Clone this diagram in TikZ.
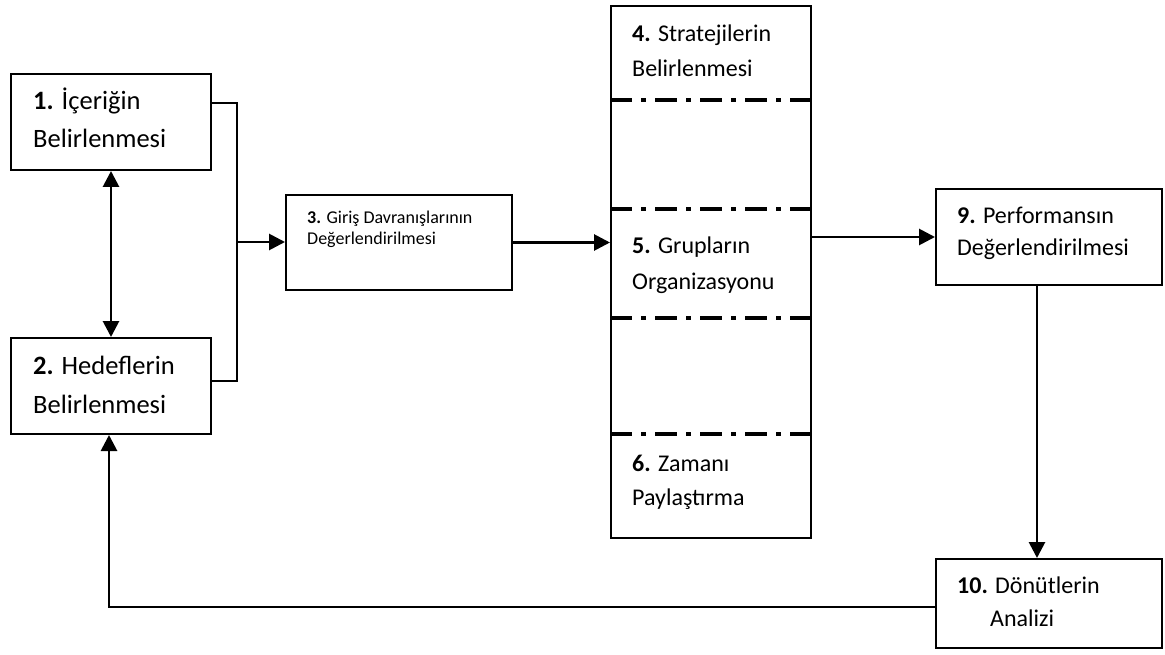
\documentclass[tikz,border=0pt]{standalone}
\usepackage{fontspec}
\setmainfont{Carlito}
\usetikzlibrary{arrows.meta}
\begin{document}
\begin{tikzpicture}[x=1pt,y=-1pt,
  box/.style={draw, line width=2pt, inner sep=0pt},
  bigtext/.style={anchor=base west, align=left, inner sep=0pt, font=\fontsize{24}{38}\selectfont},
  smalltext/.style={anchor=base west, align=left, inner sep=0pt, font=\fontsize{18}{21}\selectfont},
  link/.style={line width=2.2pt},
  arr/.style={line width=2.8pt, -{Triangle[length=16pt,width=16pt]}},
  dblarr/.style={line width=2.8pt, {Triangle[length=16pt,width=16pt]}-{Triangle[length=16pt,width=16pt]}},
  sep/.style={line width=4.5pt, dash pattern=on 22pt off 9pt on 4.5pt off 9.5pt}
]
\useasboundingbox (0,0) rectangle (1165,655);

% boxes
\node[box, minimum width=200pt, minimum height=96pt] (b1) at (111,122) {};
\node[box, minimum width=200pt, minimum height=96pt] (b2) at (111,386) {};
\node[box, minimum width=226pt, minimum height=95pt] (b3) at (399,242.5) {};
\node[box, minimum width=200pt, minimum height=532pt] (b4) at (711,272) {};
\node[box, minimum width=226pt, minimum height=96pt] (b9) at (1049,237) {};
\node[box, minimum width=226pt, minimum height=89pt] (b10) at (1049,603.5) {};

% separators inside the tall box
\draw[sep] (b4.west |- 0,100) -- (b4.east |- 0,100);
\draw[sep] (b4.west |- 0,209) -- (b4.east |- 0,209);
\draw[sep] (b4.west |- 0,318) -- (b4.east |- 0,318);
\draw[sep] (b4.west |- 0,434) -- (b4.east |- 0,434);

% texts (anchored at the baseline of their last line)
\node[bigtext, font=\fontsize{26.5}{38}\selectfont] (t1) at (33,148) {\textbf{1.} İçeriğin\\Belirlenmesi};
\node[bigtext, font=\fontsize{26.5}{39}\selectfont] (t2) at (33,413) {\textbf{2.} Hedeflerin\\Belirlenmesi};
\node[smalltext] (t3) at (307,245) {\textbf{3.} Giriş Davranışlarının\\Değerlendirilmesi};
\node[bigtext, font=\fontsize{24}{35}\selectfont] (t4) at (632,77) {\textbf{4.} Stratejilerin\\Belirlenmesi};
\node[bigtext, font=\fontsize{24}{36}\selectfont] (t5) at (632,290) {\textbf{5.} Grupların\\Organizasyonu};
\node[bigtext, font=\fontsize{24}{34}\selectfont] (t6) at (632,505) {\textbf{6.} Zamanı\\Paylaştırma};
\node[bigtext, font=\fontsize{24}{32}\selectfont] (t9) at (957,255) {\textbf{9.} Performansın\\Değerlendirilmesi};
\node[bigtext, font=\fontsize{24}{33}\selectfont] (t10) at (957,626) {\textbf{10.} Dönütlerin\\\hspace*{33pt}Analizi};

% connectors
\coordinate (j) at (237,242);
\draw[dblarr] (b1.south) -- (b2.north);
\draw[link] ([yshift=19pt]b1.east) -| (j) |- ([yshift=5pt]b2.east);
\draw[arr] (j) -- (j -| b3.west);
\draw[arr] (b3.east) -- (b3.east -| b4.west);
\draw[arr] (b4.east |- b9.west) -- (b9.west);
\draw[arr] ([xshift=-12pt]b9.south) -- ([xshift=-12pt]b10.north);
\draw[arr] ([yshift=-3.5pt]b10.west) -| ([xshift=-2pt]b2.south);
\end{tikzpicture}
\end{document}
